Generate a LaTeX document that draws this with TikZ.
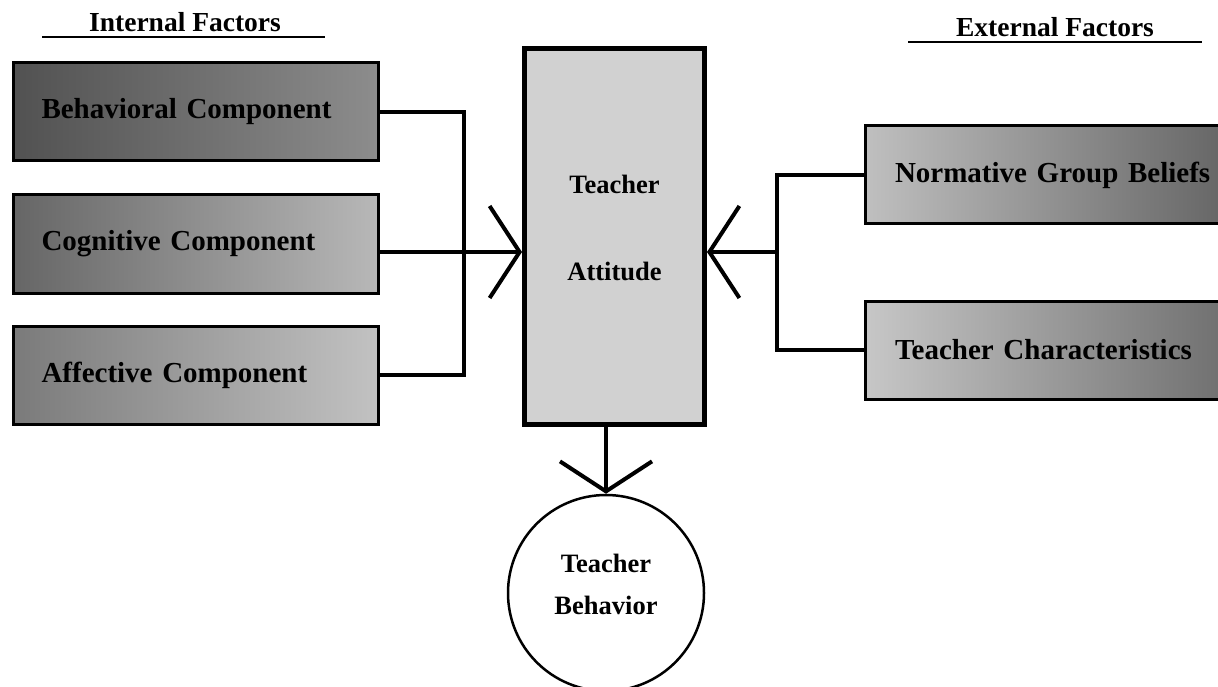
\documentclass[tikz,border=0pt]{standalone}
\usepackage{fontspec}
\setmainfont{Liberation Serif}
\usetikzlibrary{positioning, arrows.meta, calc}

\begin{document}
\begin{tikzpicture}[
    x=1pt, y=-1pt,
    >={Straight Barb[length=30pt, width=92pt]}, % Wide open arrow heads
    % Styles
    heading/.style={
        font=\fontsize{27.5}{33}\selectfont\bfseries,
        inner sep=0pt
    },
    rule/.style={
        line width=2.5pt
    },
    factor/.style={ % Internal or external factor
        rectangle,
        draw,
        line width=3pt,
        minimum height=98pt,
        text width=309pt,
        inner xsep=28pt,
        align=left,
        font=\fontsize{29}{35}\selectfont\bfseries
    },
    core/.style={
        rectangle,
        draw,
        line width=5pt,
        fill=black!18,
        minimum width=180pt,
        minimum height=376pt,
        align=center,
        font=\fontsize{26.5}{87}\selectfont\bfseries
    },
    outcome/.style={
        circle,
        draw,
        line width=2.5pt,
        fill=white,
        minimum size=196pt,
        align=center,
        font=\fontsize{26.5}{42}\selectfont\bfseries
    },
    link/.style={
        line width=4pt
    },
    arrow/.style={
        link,
        ->
    }
]
    \useasboundingbox (0,0) rectangle (1218,687);

    % Headings
    \node[heading, anchor=base] (internal) at (185,32) {Internal Factors};
    \draw[rule] ($(internal.base)+(-143,5)$) -- ++(283,0);
    \node[heading, anchor=base] (external) at (1055,37) {External Factors};
    \draw[rule] ($(external.base)+(-147,5)$) -- ++(294,0);

    % Internal factors
    \node[factor, left color=black!68, right color=black!45] (behav) at (196,112) {Behavioral Component};
    \node[factor, left color=black!60, right color=black!28] (cogn) at (196,244) {Cognitive Component};
    \node[factor, left color=black!52, right color=black!24] (affect) at (196,375) {Affective Component};

    % External factors
    \node[factor, text width=320pt, inner xsep=30pt, left color=black!25, right color=black!62] (normative) at (1055,175) {Normative Group Beliefs};
    \node[factor, text width=320pt, inner xsep=30pt, left color=black!22, right color=black!58] (charact) at (1055,350) {Teacher Characteristics};

    % Attitude and behavior
    \node[core] (attitude) at (614.5,236.5) {Teacher\\Attitude\rule[-17.6pt]{0pt}{0pt}};
    \node[outcome] (behavior) at (606,593) {Teacher\\Behavior\rule[-17.6pt]{0pt}{0pt}};

    % Connections
    \coordinate (busL) at (464,252);
    \coordinate (busR) at (777,252);
    \draw[link] (behav.east) -| (busL) |- (affect.east);
    \draw[arrow] (cogn.east |- busL) -- (attitude.west |- busL);
    \draw[link] (normative.west) -| (busR) |- (charact.west);
    \draw[arrow] (busR) -- (attitude.east |- busR);
    \draw[arrow] (behavior.north |- attitude.south) -- (behavior.north);
\end{tikzpicture}
\end{document}
